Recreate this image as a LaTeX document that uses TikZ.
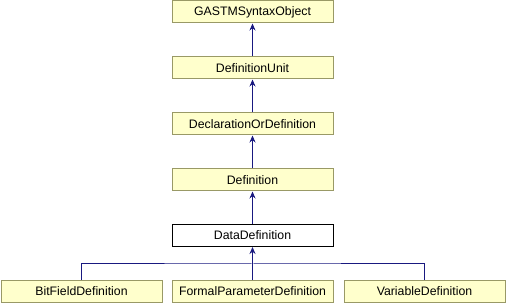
\documentclass[tikz,border=0pt]{standalone}
\usepackage{fontspec}
\setmainfont{Liberation Sans}
\usepackage{xcolor}
\usetikzlibrary{arrows.meta}

\definecolor{boxfill}{RGB}{255,255,204}
\definecolor{boxline}{RGB}{153,153,102}
\definecolor{edgeblue}{RGB}{25,25,128}

\begin{document}
\begin{tikzpicture}[x=1pt, y=1pt, class node/.style={rectangle, draw=boxline, fill=boxfill, line width=1pt, minimum width=161pt, minimum height=22pt, inner sep=0pt, font=\fontsize{12.3}{14}\selectfont}, main node/.style={class node, draw=black, fill=white}, inherit/.style={draw=edgeblue, line width=1pt, -{Stealth[length=7pt,width=6pt]}}]
\useasboundingbox (0,0) rectangle (506,-304);
\node[class node] (gast) at (252.5,-12) {GASTMSyntaxObject};
\node[class node] (unit) at (252.5,-68) {DefinitionUnit};
\node[class node] (decl) at (252.5,-124) {DeclarationOrDefinition};
\node[class node] (def) at (252.5,-180) {Definition};
\node[main node] (data) at (252.5,-235.5) {DataDefinition};
\node[class node] (bitf) at (81.5,-291.5) {BitFieldDefinition};
\node[class node] (formal) at (252.5,-291.5) {FormalParameterDefinition};
\node[class node] (var) at (424.5,-291.5) {VariableDefinition};
\coordinate (split) at (252.5,-264);
\path[inherit]
(unit) edge (gast)
(decl) edge (unit)
(def) edge (decl)
(data) edge (def)
(formal) edge (data);
\draw[draw=edgeblue, line width=1pt] (bitf.north) |- (split) -| (var.north);
\end{tikzpicture}
\end{document}
